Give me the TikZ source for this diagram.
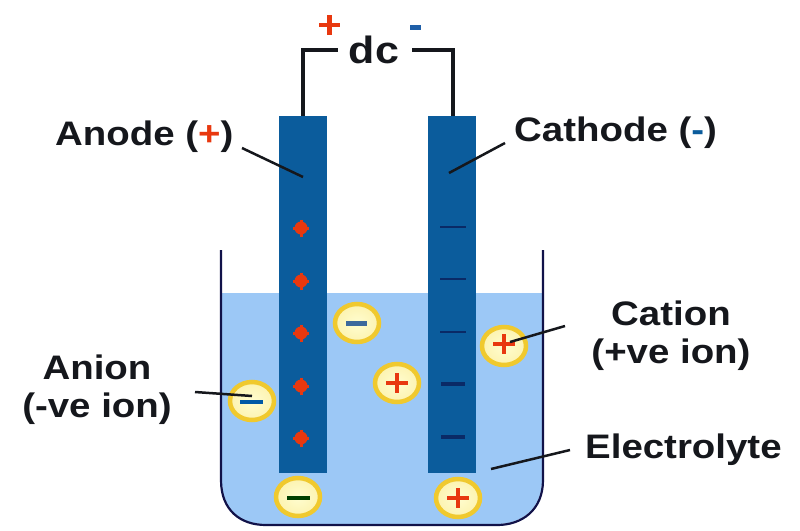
\documentclass[tikz,border=0pt]{standalone}
\usepackage{fontspec}
\setmainfont{Liberation Sans}
\newfontfamily\lblfont[FakeStretch=1.13]{Liberation Sans}
\usetikzlibrary{shapes.geometric}
\definecolor{elecblue}{HTML}{0B5C9C}
\definecolor{liquid}{HTML}{9CC8F6}
\definecolor{wirek}{HTML}{15171C}
\definecolor{plusred}{HTML}{E8380F}
\definecolor{minusblue}{HTML}{1F5FA8}
\definecolor{navy}{HTML}{0A2A66}
\definecolor{ionrim}{HTML}{F0C92E}
\definecolor{ionfill}{HTML}{FFFDD0}
\tikzset{
  x=1pt,y=-1pt,
  electrode/.style={fill=elecblue,draw=none},
  wire/.style={draw=wirek,line width=3.2pt},
  leader/.style={draw=wirek,line width=2.5pt},
  ion/.style={ellipse,minimum width=44pt,minimum height=38pt,inner sep=0pt,draw=ionrim,line width=4.5pt,inner color=ionfill,outer color=ionfill!80!ionrim},
  lbl/.style={font=\lblfont\bfseries\fontsize{34}{38}\selectfont,text=wirek,align=center,inner sep=0pt},
}
\newcommand{\plussign}[2]{\draw[line width=4.5pt,draw=plusred] (#1-11,#2) -- (#1+11,#2) (#1,#2-10) -- (#1,#2+10);}
\begin{document}
\begin{tikzpicture}
\useasboundingbox (0,0) rectangle (800,530);
% electrolyte
\fill[liquid] (222,293) -- (542,293) -- (542,480) .. controls (542,510) and (520,524) .. (497,524) -- (266,524) .. controls (240,524) and (222,510) .. (222,480) -- cycle;
% beaker
\draw[draw=wirek!80!blue,line width=2.2pt] (221,250) -- (221,480) .. controls (221,510) and (240,525) .. (266,525) -- (497,525) .. controls (522,525) and (543,510) .. (543,480) -- (543,250);
% electrodes
\node[electrode,minimum width=48pt,minimum height=357pt,inner sep=0pt] (anode) at (303,294.5) {};
\node[electrode,minimum width=48pt,minimum height=357pt,inner sep=0pt] (cathode) at (452,294.5) {};
% dc
\node[lbl,font=\lblfont\bfseries\fontsize{38}{40}\selectfont] (dc) at (374,50) {dc};
\coordinate (wl) at (338,50);
\coordinate (wr) at (412,50);
\draw[wire] (anode.north) -- (303,50) -- (wl);
\draw[wire] (453,116) -- (453,50) -- (wr);
\draw[draw=plusred,line width=4.5pt] (319,25) -- (340,25) (329.5,15) -- (329.5,35);
\draw[draw=minusblue,line width=4.5pt] (410,27.5) -- (421,27.5);
% electrode charges
\foreach \y/\n in {228/a,281/b,333/c,386/d,438/e}{
  \node[circle,fill=plusred,minimum size=13pt,inner sep=0pt] (p\n) at (301,\y) {};
  \draw[draw=plusred,line width=3pt] (293,\y) -- (309,\y) (301,\y-8.5) -- (301,\y+8.5);
}
\foreach \y in {227,279,332}{\draw[draw=navy,line width=1.8pt] (440,\y) -- (466,\y);}
\foreach \y in {384,437}{\draw[draw=navy,line width=3.5pt] (441,\y) -- (465,\y);}
% ions
\node[ion] (i1) at (357,323) {};
\node[ion] (i2) at (397,383) {};
\node[ion] (i3) at (504,346) {};
\node[ion] (i4) at (252,401) {};
\node[ion] (i5) at (298,497) {};
\node[ion] (i6) at (458,498) {};
\draw[draw=minusblue!70!gray,line width=4.5pt] (346,323.5) -- (367,323.5);
\plussign{397}{383}
\plussign{504}{344}
\draw[draw=teal!70!blue,line width=4pt] (240,402) -- (263,402);
\draw[draw=black!75!green,line width=3.5pt] (287,498) -- (310,498);
\plussign{458}{498}
% labels
\node[lbl,anchor=west] (lanode) at (55,137) {Anode (\textcolor{plusred}{+})};
\node[lbl,anchor=west] (lcathode) at (514,133) {Cathode (\textcolor{elecblue}{-})};
\node[lbl] (lanion) at (97,390) {Anion\\(-ve ion)};
\node[lbl] (lcation) at (671,336) {Cation\\(+ve ion)};
\node[lbl,anchor=west] (lelectrolyte) at (585,450) {Electrolyte};
% leaders
\coordinate (ca) at (242,148); \coordinate (cb) at (303,177);
\draw[leader] (ca) -- (cb);
\coordinate (cc) at (505,143); \coordinate (cd) at (449,173);
\draw[leader] (cc) -- (cd);
\coordinate (ce) at (195,392); \coordinate (cj) at (252,396);
\draw[leader] (ce) -- (cj);
\coordinate (cf) at (565,326); \coordinate (ck) at (510,342);
\draw[leader] (cf) -- (ck);
\coordinate (cg) at (570,450); \coordinate (ch) at (491,469);
\draw[leader] (cg) -- (ch);
\end{tikzpicture}
\end{document}
